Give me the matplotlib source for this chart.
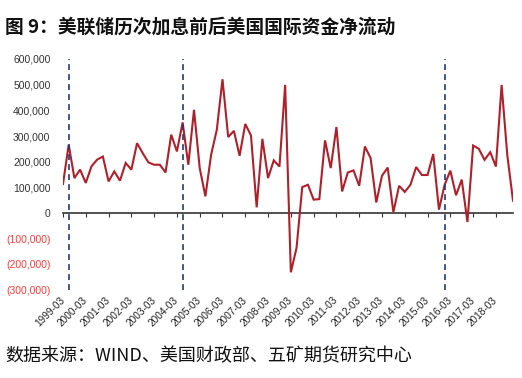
import matplotlib
matplotlib.use("Agg")
import matplotlib.pyplot as plt

plt.rcParams['font.family'] = ['Liberation Sans', 'Noto Sans CJK SC', 'DejaVu Sans']

# Quarterly periods 1999-03 .. 2018-12
quarters = [f"{y}-{m:02d}" for y in range(1999, 2019) for m in (3, 6, 9, 12)]

# Net international capital flow (quarterly)
net_flow = [
    113000, 266000, 136000, 169000, 117000, 182000, 208000, 220000,
    123000, 162000, 126000, 195000, 169000, 272000, 233000, 197000,
    188000, 188000, 158000, 305000, 240000, 353000, 188000, 402000,
    175000, 65000, 227000, 324000, 521000, 296000, 320000, 223000,
    347000, 302000, 22000, 289000, 136000, 205000, 181000, 499000,
    -231000, -136000, 101000, 110000, 52000, 54000, 283000, 175000,
    335000, 84000, 158000, 166000, 106000, 259000, 214000, 41000,
    145000, 177000, 3000, 106000, 82000, 110000, 179000, 148000,
    148000, 230000, 13000, 110000, 165000, 69000, 130000, -35000,
    263000, 250000, 207000, 237000, 181000, 499000, 225000, 48000,
]

# Fed hike-cycle starts
hike_starts = ["1999-06", "2004-06", "2015-12"]

# Tick labels (every March)
tick_labels = [f"{y}-03" for y in range(1999, 2019)]
y_ticks = [-300000, -200000, -100000, 0, 100000, 200000, 300000, 400000, 500000, 600000]

title = "图 9：美联储历次加息前后美国国际资金净流动"
source = "数据来源：WIND、美国财政部、五矿期货研究中心"

fig = plt.figure(figsize=(5.22, 3.78), dpi=100)
ax = fig.add_axes([63 / 522, 1 - 290 / 378, (513 - 63) / 522, (290 - 59) / 378])

x = list(range(len(net_flow)))
ax.plot(x, net_flow, color="#B0202A", lw=1.5, solid_joinstyle="miter", zorder=3)

for d in hike_starts:
    ax.axvline(quarters.index(d), color="#1F3A7A", lw=1.2, ls=(0, (3.5, 2.5)), zorder=4)

ax.set_xlim(0, len(net_flow) - 1)
ax.set_ylim(-300000, 600000)

for s in ("left", "right", "top"):
    ax.spines[s].set_visible(False)
ax.spines["bottom"].set_position(("data", 0))
ax.spines["bottom"].set_color("#333333")
ax.spines["bottom"].set_linewidth(1.2)
ax.spines["bottom"].set_zorder(2)

tick_pos = [quarters.index(t) for t in tick_labels]
ax.set_xticks(tick_pos)
ax.tick_params(axis="x", direction="out", length=3, width=0.8, color="#333333", labelbottom=False)

ax.set_yticks(y_ticks)
ylabels = []
for v in y_ticks:
    if v < 0:
        ylabels.append(f"({-v:,})")
    else:
        ylabels.append(f"{v:,}")
ax.set_yticklabels(ylabels, fontsize=7.5)
ax.tick_params(axis="y", length=0, pad=9)
for lab, v in zip(ax.get_yticklabels(), y_ticks):
    lab.set_color("#FF3B3B" if v < 0 else "#333333")

sec = ax.secondary_xaxis("bottom")
sec.set_xticks(tick_pos)
sec.set_xticklabels(tick_labels, rotation=45, ha="right", va="center",
                    rotation_mode="anchor", fontsize=7.2, color="#222222")
sec.tick_params(length=0, pad=6)
sec.spines["bottom"].set_visible(False)

fig.text(5 / 522, 1 - 27 / 378, title, fontsize=13.5, fontweight="bold",
         family=["Noto Sans CJK SC", "DejaVu Sans"], ha="left", va="center", color="#111111")
fig.text(5 / 522, 1 - 356 / 378, source, fontsize=13,
         family=["Noto Sans CJK SC", "DejaVu Sans"], ha="left", va="center", color="#111111")

fig.savefig("out.png", dpi=100)
